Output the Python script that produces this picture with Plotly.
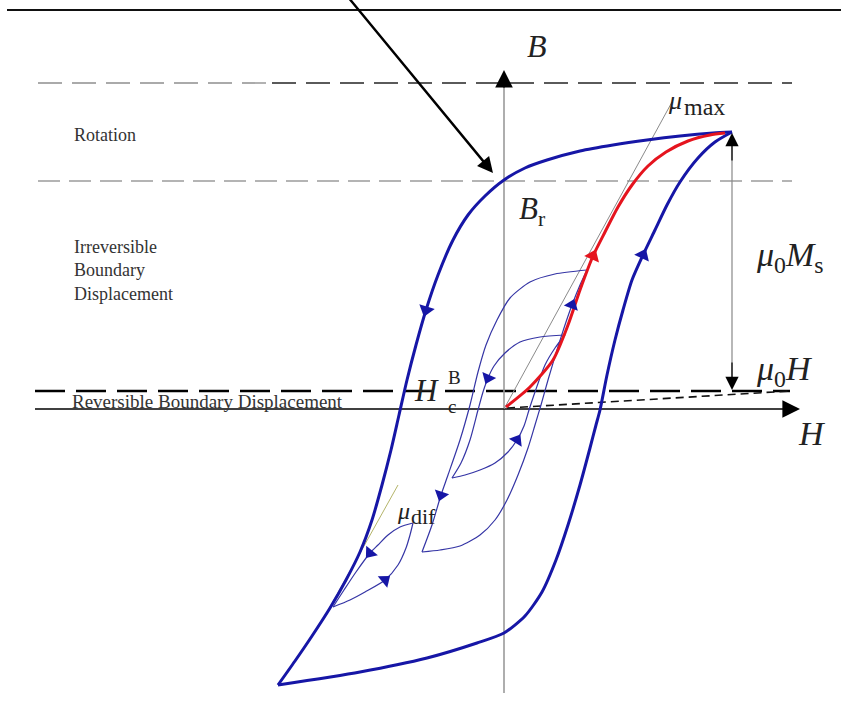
import math
import plotly.graph_objects as go

# ---- B-H hysteresis data (H and B in arbitrary units) ----
# major loop, descending branch (from +saturation to -saturation)
major_desc_H = [2.28, 2.09, 1.76, 1.43, 1.09, 0.76, 0.43, 0.21, 0.00, -0.19, -0.36, -0.51, -0.66,
                -0.78, -0.88, -0.97, -1.05, -1.13, -1.22, -1.32, -1.44, -1.58, -1.74, -1.92, -2.09, -2.26]
major_desc_B = [2.77, 2.76, 2.73, 2.69, 2.64, 2.58, 2.49, 2.41, 2.29, 2.13, 1.94, 1.69, 1.34,
                0.99, 0.64, 0.29, -0.06, -0.41, -0.76, -1.11, -1.43, -1.71, -1.99, -2.27, -2.52, -2.76]
# major loop, ascending branch
major_asc_H = [-2.26, -1.44, -0.77, -0.27, 0.00, 0.21, 0.38, 0.52, 0.64, 0.76, 0.86, 0.92, 0.96,
               1.03, 1.11, 1.19, 1.28, 1.39, 1.51, 1.63, 1.76, 1.94, 2.11, 2.28]
major_asc_B = [-2.76, -2.63, -2.49, -2.34, -2.24, -2.07, -1.83, -1.51, -1.16, -0.76, -0.39, -0.16, -0.01,
               0.34, 0.69, 0.99, 1.29, 1.54, 1.79, 2.04, 2.27, 2.51, 2.67, 2.77]
# initial magnetisation curve
initial_H = [0.02, 0.26, 0.49, 0.64, 0.76, 0.89, 1.01, 1.14, 1.28, 1.44, 1.62, 1.84, 2.06, 2.21]
initial_B = [0.02, 0.22, 0.49, 0.84, 1.19, 1.53, 1.77, 2.02, 2.24, 2.43, 2.57, 2.68, 2.74, 2.76]

# minor loops
minor1_desc_H = [0.83, 0.51, 0.26, 0.06, -0.07, -0.18, -0.26, -0.34, -0.44, -0.56, -0.63, -0.72, -0.82]
minor1_desc_B = [1.39, 1.35, 1.27, 1.11, 0.89, 0.64, 0.37, 0.04, -0.31, -0.66, -0.86, -1.16, -1.43]
minor1_asc_H = [-0.82, -0.64, -0.44, -0.24, -0.09, 0.03, 0.14, 0.24, 0.31, 0.37, 0.44, 0.53, 0.62, 0.68, 0.76, 0.83]
minor1_asc_B = [-1.43, -1.41, -1.37, -1.26, -1.11, -0.91, -0.66, -0.39, -0.16, 0.04, 0.29, 0.59, 0.87, 1.04, 1.24, 1.39]

minor2_desc_H = [0.61, 0.36, 0.16, 0.01, -0.10, -0.16, -0.21, -0.26, -0.34, -0.43, -0.52]
minor2_desc_B = [0.74, 0.72, 0.67, 0.56, 0.43, 0.31, 0.17, -0.01, -0.31, -0.54, -0.69]
minor2_asc_H = [-0.52, -0.39, -0.24, -0.09, 0.04, 0.13, 0.20, 0.25, 0.31, 0.41, 0.51, 0.61]
minor2_asc_B = [-0.69, -0.66, -0.61, -0.54, -0.43, -0.31, -0.17, -0.01, 0.17, 0.44, 0.61, 0.74]

minor3_desc_H = [-0.91, -1.04, -1.16, -1.26, -1.34, -1.48, -1.60, -1.71]
minor3_desc_B = [-1.14, -1.18, -1.26, -1.36, -1.44, -1.63, -1.81, -1.98]
minor3_asc_H = [-1.71, -1.54, -1.39, -1.19, -1.06, -0.98, -0.94, -0.91]
minor3_asc_B = [-1.98, -1.91, -1.83, -1.71, -1.56, -1.39, -1.26, -1.14]

# permeability tangents
mu_max_H = [0.00, 1.68]
mu_max_B = [0.00, 3.07]
mu_dif_H = [-1.06, -1.74]
mu_dif_B = [-0.76, -1.98]

# mu0*H line
mu0H_H = [0.03, 2.86]
mu0H_B = [0.01, 0.18]

# region boundaries
B_rotation_top = 3.26
B_r = 2.28
B_reversible = 0.18
B_s = 2.77
H_s = 2.28

BLUE = "#1616a6"
THIN_BLUE = "#3535a5"
RED = "#e5141e"
SERIF = "Liberation Serif, Times New Roman, serif"

fig = go.Figure()


def line(h, b, color, width, dash=None, shape="linear"):
    fig.add_trace(go.Scatter(x=h, y=b, mode="lines",
                             line=dict(color=color, width=width, dash=dash, shape=shape,
                                       smoothing=0.7 if shape == "spline" else None),
                             hoverinfo="skip", showlegend=False))


def curve(h, b, color, width):
    line(h, b, color, width, shape="spline")


def arrow_marks(h, b, idxs, color, size):
    ang = []
    for i in idxs:
        dh = h[i + 1] - h[i - 1]
        db = b[i + 1] - b[i - 1]
        ang.append(math.degrees(math.atan2(dh, db)))
    fig.add_trace(go.Scatter(x=[h[i] for i in idxs], y=[b[i] for i in idxs], mode="markers",
                             marker=dict(symbol="triangle-up", size=size, color=color, angle=ang, line=dict(width=0)),
                             hoverinfo="skip", showlegend=False))


# frame line at the top
line([-4.97, 3.37], [3.99, 3.99], "#111", 2)

# region boundaries (dashed)
line([-4.66, -2.32], [B_rotation_top] * 2, "#aaaaaa", 1.8, dash="24px,10px")
line([-2.32, 2.88], [B_rotation_top] * 2, "#5a5a5a", 1.8, dash="24px,10px")
line([-4.66, 2.88], [B_r] * 2, "#6a6a6a", 1.1, dash="22px,9px")
line([-4.69, 2.86], [B_reversible] * 2, "#000", 2.6, dash="30px,11px")

# axes
line([0, 0], [-2.84, 3.25], "#9a9a9a", 1.6)
line([-4.69, 2.85], [0, 0], "#000", 1.4)

# tangent lines
line(mu_max_H, mu_max_B, "#8a8a8a", 1)
line(mu_dif_H, mu_dif_B, "#b4b46a", 1)

# mu0 H line
line(mu0H_H, mu0H_B, "#111", 1.6, dash="8px,5px")

# saturation magnetisation span line
line([H_s, H_s], [B_reversible + 0.1, B_s - 0.1], "#888", 1.2)

# minor loops
for h, b in [(minor1_desc_H, minor1_desc_B), (minor1_asc_H, minor1_asc_B),
             (minor2_desc_H, minor2_desc_B), (minor2_asc_H, minor2_asc_B),
             (minor3_desc_H, minor3_desc_B), (minor3_asc_H, minor3_asc_B)]:
    curve(h, b, THIN_BLUE, 1.2)

# major loop and initial curve
curve(major_desc_H, major_desc_B, BLUE, 3)
curve(major_asc_H, major_asc_B, BLUE, 3)
curve(initial_H, initial_B, RED, 3)

# direction arrows
arrow_marks(major_desc_H, major_desc_B, [13], BLUE, 14)
arrow_marks(major_asc_H, major_asc_B, [17], BLUE, 14)
arrow_marks(initial_H, initial_B, [5], RED, 14)
arrow_marks(minor1_asc_H, minor1_asc_B, [13], BLUE, 13)
arrow_marks(minor1_desc_H, minor1_desc_B, [10], BLUE, 13)
arrow_marks(minor2_desc_H, minor2_desc_B, [5], BLUE, 13)
arrow_marks(minor2_asc_H, minor2_asc_B, [5], BLUE, 13)
arrow_marks(minor3_desc_H, minor3_desc_B, [4], BLUE, 13)
arrow_marks(minor3_asc_H, minor3_asc_B, [3], BLUE, 13)

ann = []


def arrow(x, y, ax, ay, width, size, color="#000"):
    ann.append(dict(x=x, y=y, ax=ax, ay=ay, xref="x", yref="y", axref="x", ayref="y", text="",
                    showarrow=True, arrowhead=2, arrowsize=size, arrowwidth=width, arrowcolor=color))


# pointer to remanence
arrow(-0.11, 2.36, -1.56, 4.12, 2.4, 1.3)
# axis arrowheads
arrow(0, 3.39, 0, 3.20, 1.6, 2.2)
arrow(2.96, 0, 2.80, 0, 1.6, 2.2)
# mu0 Ms span
arrow(H_s, B_s - 0.01, H_s, B_s - 0.3, 1.2, 2.2)
arrow(H_s, B_reversible + 0.01, H_s, B_reversible + 0.3, 1.2, 2.2)


def label(x, y, text, size, xanchor="left", yanchor="middle", color="#222"):
    ann.append(dict(x=x, y=y, xref="x", yref="y", text=text, showarrow=False, xanchor=xanchor, yanchor=yanchor,
                    align="left", font=dict(family=SERIF, size=size, color=color)))


label(0.33, 3.63, "<i>B</i>", 32, xanchor="center")
label(3.08, -0.24, "<i>H</i>", 34, xanchor="center")
label(0.13, 1.98, "<i>B</i><sub>r</sub>", 31)
label(1.62, 3.09, "<i>μ</i>", 26)
label(1.78, 3.02, "max", 24)
label(2.50, 1.52, "<i>μ</i><sub>0</sub><i>M</i><sub>s</sub>", 34)
label(2.50, 0.38, "<i>μ</i><sub>0</sub><i>H</i>", 34)
label(-0.92, 0.19, "<i>H</i>", 31)
label(-0.58, 0.32, "B", 19)
label(-0.58, 0.03, "c", 19)
label(-1.09, -1.02, "<i>μ</i>", 24)
label(-0.95, -1.07, "dif", 22)
label(-4.32, 2.74, "Rotation", 18, color="#333")
label(-4.32, 1.39, "Irreversible<br>Boundary<br>Displacement", 18, color="#333")
label(-4.34, 0.08, "Reversible Boundary Displacement", 19, color="#333")

fig.update_layout(
    width=841, height=717, margin=dict(l=0, r=0, t=0, b=0),
    paper_bgcolor="white", plot_bgcolor="white",
    xaxis=dict(range=[-5.04, 3.37], visible=False, fixedrange=True),
    yaxis=dict(range=[-3.08, 4.09], visible=False, fixedrange=True),
    annotations=ann, showlegend=False,
)

fig.write_html("out.html")
